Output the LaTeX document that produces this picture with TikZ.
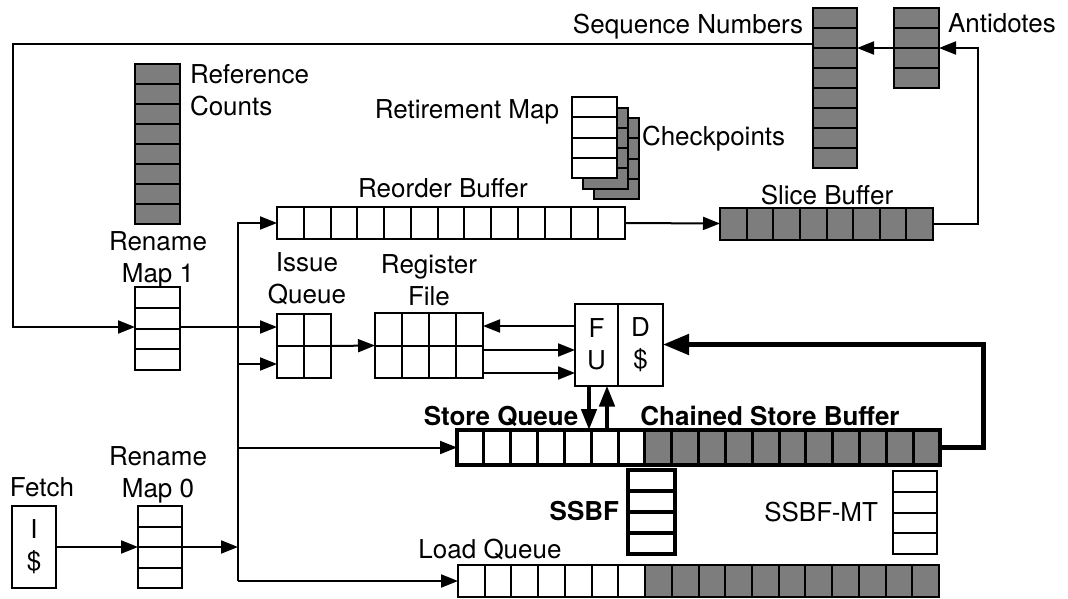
\documentclass[tikz,border=0pt]{standalone}
\usepackage{fontspec}
\setmainfont{TeX Gyre Heros}
\usetikzlibrary{arrows.meta,calc}
\definecolor{cg}{RGB}{125,125,125}
\tikzset{
  cellbox/.style={draw,inner sep=0pt,outer sep=0pt},
  arr/.style={line width=2pt,-{Triangle[length=17pt,width=13pt]}},
  tarr/.style={line width=5pt,-{Triangle[length=26pt,width=20pt]}},
  farr/.style={line width=4.5pt,-{Triangle[length=21pt,width=15pt]}},
  lbl/.style={inner sep=0pt,outer sep=0pt},
  blbl/.style={lbl,font=\fontsize{26}{32}\selectfont\bfseries}
}
% vertical stack: name, x, y, w, h, n, fill, lw
\newcommand{\vcells}[8]{%
  \node[cellbox,fill=#7,line width=#8,minimum width=#4,minimum height=#5] (#1) at (#2,#3) {};
  \foreach \k in {1,...,#6}{\ifnum\k<#6\relax
    \draw[line width=#8] ($(#1.north west)!\k/#6!(#1.south west)$) -- ($(#1.north east)!\k/#6!(#1.south east)$);\fi}}
% horizontal row: name, x, y, w, h, n, fill, lw
\newcommand{\hcells}[8]{%
  \node[cellbox,fill=#7,line width=#8,minimum width=#4,minimum height=#5] (#1) at (#2,#3) {};
  \foreach \k in {1,...,#6}{\ifnum\k<#6\relax
    \draw[line width=#8] ($(#1.north west)!\k/#6!(#1.north east)$) -- ($(#1.south west)!\k/#6!(#1.south east)$);\fi}}
% mixed row: name, x, y, w, h, n, nwhite, border lw, divider lw
\newcommand{\mixrow}[9]{%
  \node[cellbox,draw=none,fill=white,minimum width=#4,minimum height=#5] (#1) at (#2,#3) {};
  \fill[cg] ($(#1.north west)!#7/#6!(#1.north east)$) rectangle (#1.south east);
  \foreach \k in {1,...,#6}{\ifnum\k<#6\relax
    \draw[line width=#9] ($(#1.north west)!\k/#6!(#1.north east)$) -- ($(#1.south west)!\k/#6!(#1.south east)$);\fi}
  \draw[line width=#8] (#1.north west) rectangle (#1.south east);}
\begin{document}
\begin{tikzpicture}[x=1pt,y=-1pt,line width=2pt,font=\fontsize{26}{32}\selectfont]
\useasboundingbox (0,0) rectangle (1068,598);

% ---- structures ----
\vcells{refc}{157.5}{144}{45}{160}{8}{cg}{2pt}
\vcells{rm1}{157.5}{328.5}{45}{83}{4}{white}{2pt}
\vcells{rm0}{160}{547}{44}{82}{4}{white}{2pt}
\node[cellbox,fill=white,minimum width=44,minimum height=82,align=center] (fetch) at (34,547) {I\\\$};

\hcells{iq}{304}{346}{54}{64}{2}{white}{2pt}
\draw (iq.west) -- (iq.east);
\hcells{rf}{429}{345.5}{108}{65}{4}{white}{2pt}
\draw (rf.west) -- (rf.east);

\node[cellbox,fill=white,minimum width=43,minimum height=82,align=center] (fu) at (596.5,344.5) {F\\U};
\node[cellbox,fill=white,minimum width=45,minimum height=82,align=center] (dc) at (640.5,344.5) {D\\\$};

\hcells{rob}{451}{223}{348}{32}{13}{white}{2pt}
\hcells{slice}{826.5}{223.5}{213}{32}{8}{cg}{2pt}
\vcells{seqn}{835}{88}{44}{160}{8}{cg}{2pt}
\vcells{anti}{916.5}{48}{45}{80}{4}{cg}{2pt}

\vcells{ck2}{616.5}{158.5}{45}{81}{4}{cg}{2pt}
\vcells{ck1}{605.5}{148}{45}{81}{4}{cg}{2pt}
\vcells{retm}{594.5}{137.5}{45}{81}{4}{white}{2pt}

\mixrow{sq}{698.5}{447.5}{483}{35}{18}{7}{4pt}{3pt}
\vcells{ssbf}{651.5}{512}{47}{84}{4}{white}{4pt}
\vcells{ssbfmt}{915}{512.5}{44}{83}{4}{white}{2pt}
\mixrow{lq}{698.5}{581}{481}{32}{18}{7}{2pt}{2pt}

% ---- labels ----
\node[lbl,anchor=north west,align=left] (refcl) at (190,64) {Reference\\Counts};
\node[lbl,anchor=north,align=center] (rm1l) at (158,232) {Rename\\Map 1};
\node[lbl,anchor=north,align=center] (iql) at (307,253) {Issue\\Queue};
\node[lbl,anchor=north,align=center] (rfl) at (429,255) {Register\\File};
\node[lbl,anchor=north,align=center] (rm0l) at (158,447) {Rename\\Map 0};
\node[lbl,anchor=base] (fetchl) at (42,496) {Fetch};
\node[lbl,anchor=base east] (seql) at (803,33) {Sequence Numbers};
\node[lbl,anchor=base west] (antil) at (948,32) {Antidotes};
\node[lbl,anchor=base east] (retl) at (559,118) {Retirement Map};
\node[lbl,anchor=base west] (ckl) at (642,145) {Checkpoints};
\node[lbl,anchor=base] (robl) at (443,197) {Reorder Buffer};
\node[lbl,anchor=base] (slicel) at (827,204) {Slice Buffer};
\node[blbl,anchor=base] (sql) at (501,425) {Store Queue};
\node[blbl,anchor=base] (csbl) at (770,425) {Chained Store Buffer};
\node[blbl,anchor=base east] (ssbfl) at (619,520) {SSBF};
\node[lbl,anchor=base east] (mtl) at (878,521) {SSBF-MT};
\node[lbl,anchor=base] (lql) at (490,558) {Load Queue};

% ---- connectors ----
\coordinate (fbL) at (13,44);
\coordinate (fbB) at (13,327);
\draw[arr] (fbL -| seqn.west) -- (fbL) -- (fbB) -- (fbB -| rm1.west);
\draw[arr] (fbB -| rm1.east) -- (fbB -| iq.west);

\coordinate (bus) at (238,223);
\draw[arr] (lq.west -| bus) -- (bus) -- (rob.west);
\coordinate (iqB) at (238,364);
\draw[arr] (iqB) -- (iqB -| iq.west);
\draw[arr] (sq.west -| bus) -- (sq.west);
\draw[arr] (lq.west -| bus) -- (lq.west);
\draw[arr] (rm0.east) -- (rm0.east -| bus);
\draw[arr] (fetch.east) -- (rm0.west);

\draw[arr] (iq.east) -- (rf.west);
\coordinate (fa) at ($(fu.west)+(0,-18.5)$);
\coordinate (fb) at ($(fu.west)+(0,5.5)$);
\coordinate (fc) at ($(fu.west)+(0,28.5)$);
\draw[arr] (fa) -- (fa -| rf.east);
\draw[arr] (fb -| rf.east) -- (fb);
\draw[arr] (fc -| rf.east) -- (fc);

\coordinate (dR) at (983,447.5);
\draw[tarr] (sq.east) -- (sq.east -| dR) -- (dc.east -| dR) -- (dc.east);
\coordinate (dnx) at (589,0);
\coordinate (upx) at (607,0);
\draw[farr] (fu.south -| dnx) -- (sq.north -| dnx);
\draw[farr] (sq.north -| upx) -- (fu.south -| upx);

\draw[arr] (rob.east) -- (slice.west);
\coordinate (sR) at (978,224);
\draw[arr] (slice.east) -- (slice.east -| sR) -- (anti.east -| sR) -- (anti.east);
\draw[arr] (anti.west) -- (anti.west -| seqn.east);
\end{tikzpicture}
\end{document}
